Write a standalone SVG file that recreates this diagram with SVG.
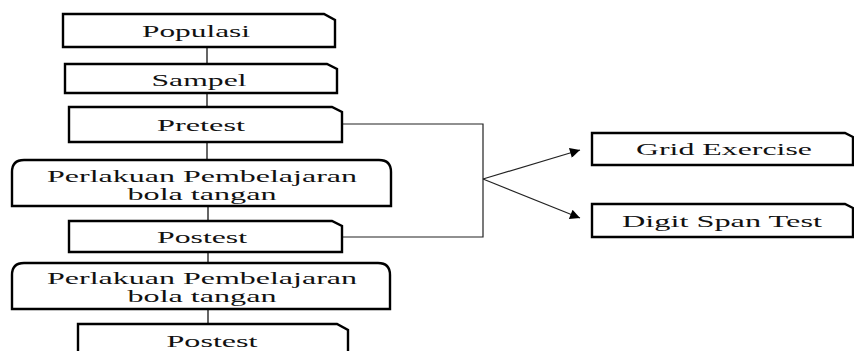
<svg xmlns="http://www.w3.org/2000/svg" width="854" height="351" viewBox="0 0 854 351">
<style>
.box{fill:#fff;stroke:#000;stroke-width:2.4;stroke-linejoin:miter}
.t{font-family:"Liberation Serif","Times New Roman",serif;font-size:17px;fill:#111;text-anchor:middle}
.t2{font-size:16px}
.c{stroke:#555;stroke-width:1.8;fill:none}
.r{stroke:#222;stroke-width:1.2;fill:none}
</style>
<defs>
<marker id="ah" viewBox="0 0 10 10" refX="10" refY="5" markerWidth="14" markerHeight="10" markerUnits="userSpaceOnUse" orient="auto">
<path d="M0,0 L10,5 L0,10 Z" fill="#000"/>
</marker>
</defs>
<rect width="854" height="351" fill="#fff"/>
<g id="connectors">
<line class="c" x1="207" y1="47" x2="207" y2="64"/>
<line class="c" x1="207" y1="93" x2="207" y2="107"/>
<line class="c" x1="207" y1="142" x2="207" y2="160"/>
<line class="c" x1="208" y1="206" x2="208" y2="221"/>
<line class="c" x1="208" y1="252" x2="208" y2="263"/>
<line class="c" x1="208" y1="309" x2="208" y2="324"/>
<polyline class="r" points="342,124 483,124 483,237 342,237"/>
<line class="r" x1="483" y1="179" x2="580" y2="150" marker-end="url(#ah)"/>
<line class="r" x1="483" y1="179" x2="580" y2="218" marker-end="url(#ah)"/>
</g>
<g id="populasi">
<path class="box" d="M63,14 H324 L335,20 V47 H63 Z"/>
<text class="t" x="196" y="37" textLength="108" lengthAdjust="spacingAndGlyphs">Populasi</text>
</g>
<g id="sampel">
<path class="box" d="M65,64 H327 L337,69 V93 H65 Z"/>
<text class="t" x="199" y="86" textLength="95" lengthAdjust="spacingAndGlyphs">Sampel</text>
</g>
<g id="pretest">
<path class="box" d="M69,107 H332 L342,112 V142 H69 Z"/>
<text class="t" x="201" y="131" textLength="88" lengthAdjust="spacingAndGlyphs">Pretest</text>
</g>
<g id="perlakuan1">
<path class="box" d="M12,206 V172 Q12,160 24,160 H379 Q391,160 391,172 V206 Z"/>
<text class="t t2" x="202" y="182" textLength="310" lengthAdjust="spacingAndGlyphs">Perlakuan Pembelajaran</text>
<text class="t t2" x="202" y="200" textLength="149" lengthAdjust="spacingAndGlyphs">bola tangan</text>
</g>
<g id="postest1">
<path class="box" d="M69,221 H332 L342,226 V252 H69 Z"/>
<text class="t" x="202" y="243" textLength="90" lengthAdjust="spacingAndGlyphs">Postest</text>
</g>
<g id="perlakuan2">
<path class="box" d="M12,309 V275 Q12,263 24,263 H378 Q390,263 390,275 V309 Z"/>
<text class="t t2" x="202" y="284" textLength="310" lengthAdjust="spacingAndGlyphs">Perlakuan Pembelajaran</text>
<text class="t t2" x="202" y="302" textLength="149" lengthAdjust="spacingAndGlyphs">bola tangan</text>
</g>
<g id="postest2">
<path class="box" d="M78,324 H337 L348,330 V360 H78 Z"/>
<text class="t" x="212" y="347" textLength="91" lengthAdjust="spacingAndGlyphs">Postest</text>
</g>
<g id="grid">
<path class="box" d="M592,133 H845 L853,137 V165 H592 Z"/>
<text class="t" x="724" y="155" textLength="176" lengthAdjust="spacingAndGlyphs">Grid Exercise</text>
</g>
<g id="digit">
<path class="box" d="M592,204 H845 L853,208 V237 H592 Z"/>
<text class="t" x="722" y="227" textLength="200" lengthAdjust="spacingAndGlyphs">Digit Span Test</text>
</g>
</svg>
